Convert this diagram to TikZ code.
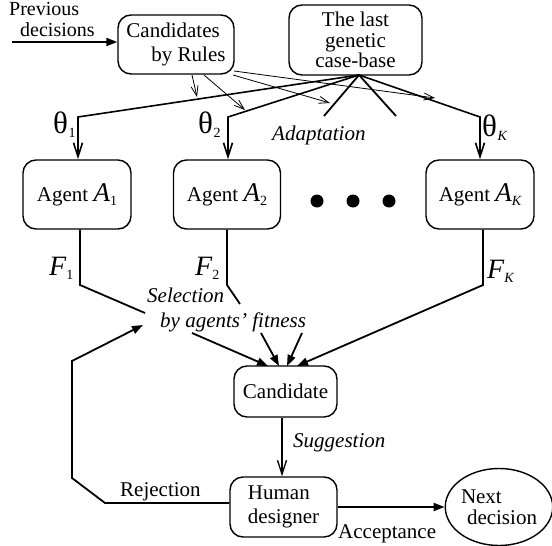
\documentclass[tikz,border=0pt]{standalone}
\usepackage{fontspec}
\setmainfont{Liberation Serif}
\usetikzlibrary{arrows.meta,shapes.geometric}
\newcommand{\mysub}[1]{\raisebox{-4pt}{\fontsize{14}{14}\selectfont #1}}
\begin{document}
\begin{tikzpicture}[x=1pt,y=-1pt,
  box/.style={draw, line width=1.4pt, rounded corners=13pt, inner sep=0pt, font=\fontsize{21}{24}\selectfont},
  thickln/.style={line width=1.8pt},
  barb/.style={line width=1.6pt, -{Straight Barb[length=14pt,width=9pt]}},
  thinarr/.style={line width=0.8pt, -{Straight Barb[length=10pt,width=7pt]}},
  fillarr/.style={line width=1.8pt, -{Triangle[length=11pt,width=8pt]}},
  lab/.style={inner sep=0pt, anchor=base west, font=\fontsize{21}{24}\selectfont},
  ilab/.style={lab, font=\fontsize{21}{24}\selectfont\itshape},
  dot/.style={circle, fill=black, minimum size=13pt, inner sep=0pt}
]
\useasboundingbox (0,0) rectangle (552,546);

% boxes
\node[box, minimum width=116pt, minimum height=59pt, align=left] (cand) at (176,44.5) {Candidates\\\hspace*{25pt}by Rules};
\node[box, minimum width=133pt, minimum height=70pt, align=center, font=\fontsize{21}{20.5}\selectfont] (base) at (355.5,40) {The last\\genetic\\case-base};
\node[box, minimum width=108pt, minimum height=69pt] (a1) at (77,194.5) {Agent {\fontsize{27}{27}\selectfont\itshape A}\mysub{1}};
\node[box, minimum width=107pt, minimum height=69pt] (a2) at (227,194.5) {Agent {\fontsize{27}{27}\selectfont\itshape A}\mysub{2}};
\node[box, minimum width=108pt, minimum height=69pt] (ak) at (480,194.5) {Agent {\fontsize{27}{27}\selectfont\itshape A}\mysub{\itshape K}};
\node[dot] (d1) at (317,201) {};
\node[dot] (d2) at (353,201) {};
\node[dot] (d3) at (389,201) {};
\node[box, minimum width=103pt, minimum height=51pt] (cnd) at (285.5,391.5) {Candidate};
\node[box, minimum width=107pt, minimum height=60pt, align=left] (hum) at (283.5,507) {Human\\designer};
\node[ellipse, draw, line width=1.4pt, minimum width=104pt, minimum height=77pt, inner sep=0pt, align=left, font=\fontsize{21}{20.5}\selectfont] (next) at (499,507) {Next\\\hspace*{6pt}decision};

% labels
\node[lab, font=\fontsize{20}{22}\selectfont] (prev1) at (9,16) {Previous};
\node[lab, font=\fontsize{20}{22}\selectfont] (prev2) at (20,36) {decisions};
\node[ilab] (adapt) at (272,140) {Adaptation};
\node[ilab] (sel1) at (147,302) {Selection};
\node[ilab] (sel2) at (160,327) {by agents' fitness};
\node[ilab] (sugg) at (293,447) {Suggestion};
\node[lab] (rej) at (120,496) {Rejection};
\node[lab] (acc) at (338,538) {Acceptance};
\node[lab] (th1) at (53,133) {{\fontsize{31}{31}\selectfont θ}\kern0.5pt\mysub{1}};
\node[lab] (th2) at (198,133) {{\fontsize{31}{31}\selectfont θ}\kern0.5pt\mysub{2}};
\node[lab] (thk) at (482,136) {{\fontsize{31}{31}\selectfont θ}\kern0.5pt\mysub{\itshape K}};
\node[lab] (f1) at (49,275) {{\fontsize{28}{28}\selectfont\itshape F}\mysub{1}};
\node[lab] (f2) at (195,275) {{\fontsize{28}{28}\selectfont\itshape F}\mysub{2}};
\node[lab] (fk) at (487,278) {{\fontsize{28}{28}\selectfont\itshape F}\mysub{\itshape K}};

% coordinates
\coordinate (prevstart) at (12,42);
\coordinate (apex) at (359,75);
\coordinate (t1) at (78,117);
\coordinate (t2) at (228,117);
\coordinate (tk) at (480,117);
\coordinate (s1) at (324,116);
\coordinate (s2) at (396,116);
\coordinate (r1s) at (192,75);  \coordinate (r1e) at (197,97);
\coordinate (r2s) at (204,75);  \coordinate (r2e) at (245,110);
\coordinate (r3s) at (233,75);  \coordinate (r3e) at (330,103);
\coordinate (r4s) at (234,71);  \coordinate (r4e) at (435,98);
\coordinate (f1a) at (80,285);  \coordinate (f1b) at (145,313); \coordinate (f1c) at (192,333);
\coordinate (f2a) at (227,285); \coordinate (f2b) at (240,304); \coordinate (f2c) at (261,333);
\coordinate (f3c) at (302,333);
\coordinate (fka) at (483,285);
\coordinate (c1) at (268,366); \coordinate (c2) at (279,366);
\coordinate (c3) at (287,366); \coordinate (c4) at (297,366);
\coordinate (l1) at (105,503); \coordinate (l2) at (72,478);
\coordinate (l3) at (72,361);  \coordinate (l4) at (143,325);

% connectors
\draw[fillarr] (prevstart) -- (cand.west |- prevstart);
\draw[barb] (apex) -- (t1) -- (t1 |- a1.north);
\draw[barb] (apex) -- (t2) -- (t2 |- a2.north);
\draw[barb] (apex) -- (tk) -- (tk |- ak.north);
\draw[thickln] (apex) -- (s1);
\draw[thickln] (apex) -- (s2);
\draw[thinarr] (r1s) -- (r1e);
\draw[thinarr] (r2s) -- (r2e);
\draw[thinarr] (r3s) -- (r3e);
\draw[thinarr] (r4s) -- (r4e);
\draw[thickln] (a1.south -| f1a) -- (f1a) -- (f1b);
\draw[fillarr] (f1c) -- (c1);
\draw[thickln] (a2.south -| f2a) -- (f2a) -- (f2b);
\draw[fillarr] (f2c) -- (c2);
\draw[fillarr] (f3c) -- (c3);
\draw[fillarr] (ak.south -| fka) -- (fka) -- (c4);
\draw[barb, line width=1.3pt] ([xshift=-3.5pt]cnd.south) -- ([xshift=-1.5pt]hum.north);
\draw[fillarr] (hum.west |- l1) -- (l1) -- (l2) -- (l3) -- (l4);
\draw[fillarr] (hum.east) -- (next.west);
\end{tikzpicture}
\end{document}
